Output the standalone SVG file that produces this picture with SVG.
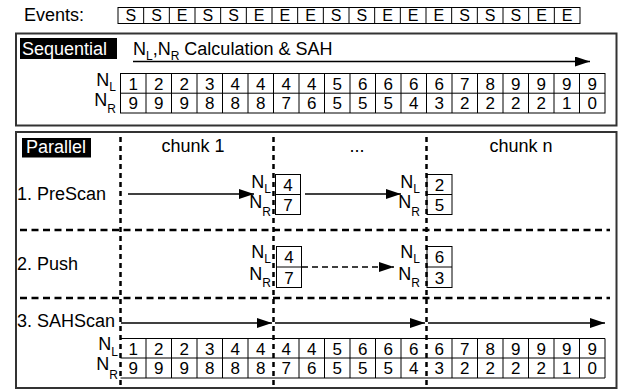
<svg xmlns="http://www.w3.org/2000/svg" width="623" height="390" viewBox="0 0 623 390">
<style>
text{font-family:"Liberation Sans",Arial,sans-serif;fill:#000}
.lbl{font-size:18px}
.sub{font-size:12px}
.ev{font-size:16px;text-anchor:middle}
.d{font-size:17px;text-anchor:middle}
.cell{fill:#fff;stroke:#000;stroke-width:1}
.grid{fill:none;stroke:#000;stroke-width:1}
.frame{fill:#fff;stroke:#333;stroke-width:2}
.tag{fill:#000}
.tagt{font-size:18px;fill:#fff}
.arr{stroke:#000;stroke-width:1.5;fill:none;marker-end:url(#ah)}
.darr{stroke:#000;stroke-width:1.3;fill:none;stroke-dasharray:6 4;marker-end:url(#ah)}
.vd{stroke:#000;stroke-width:2.5;stroke-dasharray:5 4;fill:none}
.hd{stroke:#000;stroke-width:2.5;stroke-dasharray:7 4.5;fill:none}
</style>
<defs>
<marker id="ah" viewBox="0 0 15 10" refX="15" refY="5" markerWidth="15" markerHeight="10" markerUnits="userSpaceOnUse" orient="auto"><path d="M0,0 L15,5 L0,10 z" fill="#000"/></marker>
</defs>
<rect width="623" height="390" fill="#fff"/>

<g id="events">
<text class="lbl" x="24" y="21">Events:</text>
<rect class="cell" x="118" y="7.5" width="462" height="16"/>
<path class="grid" d="M143.67 7.5V23.5M169.33 7.5V23.5M195 7.5V23.5M220.67 7.5V23.5M246.33 7.5V23.5M272 7.5V23.5M297.67 7.5V23.5M323.33 7.5V23.5M349 7.5V23.5M374.67 7.5V23.5M400.33 7.5V23.5M426 7.5V23.5M451.67 7.5V23.5M477.33 7.5V23.5M503 7.5V23.5M528.67 7.5V23.5M554.33 7.5V23.5"/>
<text class="ev" x="130.8" y="21">S</text><text class="ev" x="156.5" y="21">S</text><text class="ev" x="182.2" y="21">E</text><text class="ev" x="207.8" y="21">S</text><text class="ev" x="233.5" y="21">S</text><text class="ev" x="259.2" y="21">E</text><text class="ev" x="284.8" y="21">E</text><text class="ev" x="310.5" y="21">E</text><text class="ev" x="336.2" y="21">S</text><text class="ev" x="361.8" y="21">S</text><text class="ev" x="387.5" y="21">E</text><text class="ev" x="413.2" y="21">E</text><text class="ev" x="438.8" y="21">E</text><text class="ev" x="464.5" y="21">S</text><text class="ev" x="490.2" y="21">S</text><text class="ev" x="515.8" y="21">S</text><text class="ev" x="541.5" y="21">E</text><text class="ev" x="567.2" y="21">E</text>
</g>

<g id="sequential">
<rect class="frame" x="16" y="33.5" width="600.5" height="92"/>
<rect class="tag" x="20" y="38" width="97" height="21"/>
<text class="tagt" x="22" y="54.5">Sequential</text>
<text class="lbl" x="133" y="55">N<tspan class="sub" dy="5">L</tspan><tspan dy="-5">,N</tspan><tspan class="sub" dy="5">R</tspan><tspan dy="-5"> Calculation &amp; SAH</tspan></text>
<text class="lbl" x="116" y="86" text-anchor="end">N<tspan class="sub" dy="5">L</tspan></text>
<text class="lbl" x="116" y="106" text-anchor="end">N<tspan class="sub" dy="7">R</tspan></text>
<rect class="cell" x="120.5" y="73.5" width="484.5" height="39.5"/>
<path class="grid" d="M120.5 93.2H605M146 73.5V113M171.5 73.5V113M197 73.5V113M222.5 73.5V113M248 73.5V113M273.5 73.5V113M299 73.5V113M324.5 73.5V113M350 73.5V113M375.5 73.5V113M401 73.5V113M426.5 73.5V113M452 73.5V113M477.5 73.5V113M503 73.5V113M528.5 73.5V113M554 73.5V113M579.5 73.5V113"/>
<text class="d" x="133.25" y="89.5">1</text><text class="d" x="158.75" y="89.5">2</text><text class="d" x="184.25" y="89.5">2</text><text class="d" x="209.75" y="89.5">3</text><text class="d" x="235.25" y="89.5">4</text><text class="d" x="260.75" y="89.5">4</text><text class="d" x="286.25" y="89.5">4</text><text class="d" x="311.75" y="89.5">4</text><text class="d" x="337.25" y="89.5">5</text><text class="d" x="362.75" y="89.5">6</text><text class="d" x="388.25" y="89.5">6</text><text class="d" x="413.75" y="89.5">6</text><text class="d" x="439.25" y="89.5">6</text><text class="d" x="464.75" y="89.5">7</text><text class="d" x="490.25" y="89.5">8</text><text class="d" x="515.75" y="89.5">9</text><text class="d" x="541.25" y="89.5">9</text><text class="d" x="566.75" y="89.5">9</text><text class="d" x="592.25" y="89.5">9</text>
<text class="d" x="133.25" y="109">9</text><text class="d" x="158.75" y="109">9</text><text class="d" x="184.25" y="109">9</text><text class="d" x="209.75" y="109">8</text><text class="d" x="235.25" y="109">8</text><text class="d" x="260.75" y="109">8</text><text class="d" x="286.25" y="109">7</text><text class="d" x="311.75" y="109">6</text><text class="d" x="337.25" y="109">5</text><text class="d" x="362.75" y="109">5</text><text class="d" x="388.25" y="109">5</text><text class="d" x="413.75" y="109">4</text><text class="d" x="439.25" y="109">3</text><text class="d" x="464.75" y="109">2</text><text class="d" x="490.25" y="109">2</text><text class="d" x="515.75" y="109">2</text><text class="d" x="541.25" y="109">2</text><text class="d" x="566.75" y="109">1</text><text class="d" x="592.25" y="109">0</text>
</g>

<g id="parallel">
<rect class="frame" x="16" y="132" width="600.5" height="256"/>
<rect class="tag" x="22" y="138" width="69" height="19.5"/>
<text class="tagt" x="26" y="153">Parallel</text>
<text class="lbl" x="193" y="152" text-anchor="middle">chunk 1</text>
<text class="lbl" x="357" y="152" text-anchor="middle">...</text>
<text class="lbl" x="521" y="152" text-anchor="middle">chunk n</text>
<text class="lbl" x="17" y="200">1. PreScan</text>
<text class="lbl" x="17" y="270">2. Push</text>
<text class="lbl" x="17" y="327">3. SAHScan</text>
</g>

<g id="prescan-1">
<text class="lbl" x="271" y="188" text-anchor="end">N<tspan class="sub" dy="5">L</tspan></text>
<text class="lbl" x="271" y="208" text-anchor="end">N<tspan class="sub" dy="8">R</tspan></text>
<rect class="cell" x="275.5" y="174.5" width="25" height="40"/>
<path class="grid" d="M275.5 194.5H300.5"/>
<text class="d" x="288" y="190.5">4</text><text class="d" x="288" y="210.5">7</text>
</g>
<g id="prescan-n">
<text class="lbl" x="420" y="188" text-anchor="end">N<tspan class="sub" dy="5">L</tspan></text>
<text class="lbl" x="420" y="208" text-anchor="end">N<tspan class="sub" dy="8">R</tspan></text>
<rect class="cell" x="427" y="174.5" width="25" height="40"/>
<path class="grid" d="M427 194.5H452"/>
<text class="d" x="439.5" y="190.5">2</text><text class="d" x="439.5" y="210.5">5</text>
</g>
<g id="push-1">
<text class="lbl" x="271" y="258" text-anchor="end">N<tspan class="sub" dy="5">L</tspan></text>
<text class="lbl" x="271" y="280" text-anchor="end">N<tspan class="sub" dy="7">R</tspan></text>
<rect class="cell" x="276.5" y="246.5" width="25" height="41"/>
<path class="grid" d="M276.5 267H301.5"/>
<text class="d" x="289" y="263">4</text><text class="d" x="289" y="283.5">7</text>
</g>
<g id="push-n">
<text class="lbl" x="420" y="258" text-anchor="end">N<tspan class="sub" dy="5">L</tspan></text>
<text class="lbl" x="420" y="280" text-anchor="end">N<tspan class="sub" dy="7">R</tspan></text>
<rect class="cell" x="427" y="246.5" width="25" height="41"/>
<path class="grid" d="M427 267H452"/>
<text class="d" x="439.5" y="263">6</text><text class="d" x="439.5" y="283.5">3</text>
</g>

<g id="sahscan-rows">
<text class="lbl" x="118" y="350" text-anchor="end">N<tspan class="sub" dy="6">L</tspan></text>
<text class="lbl" x="118" y="370" text-anchor="end">N<tspan class="sub" dy="9">R</tspan></text>
<path class="grid" d="M120.5 338.5H605M120.5 358H605M120.5 378H605M605 338.5V378M146 338.5V378M171.5 338.5V378M197 338.5V378M222.5 338.5V378M248 338.5V378M299 338.5V378M324.5 338.5V378M350 338.5V378M375.5 338.5V378M401 338.5V378M452 338.5V378M477.5 338.5V378M503 338.5V378M528.5 338.5V378M554 338.5V378M579.5 338.5V378"/>
<text class="d" x="133.25" y="354.5">1</text><text class="d" x="158.75" y="354.5">2</text><text class="d" x="184.25" y="354.5">2</text><text class="d" x="209.75" y="354.5">3</text><text class="d" x="235.25" y="354.5">4</text><text class="d" x="260.75" y="354.5">4</text><text class="d" x="286.25" y="354.5">4</text><text class="d" x="311.75" y="354.5">4</text><text class="d" x="337.25" y="354.5">5</text><text class="d" x="362.75" y="354.5">6</text><text class="d" x="388.25" y="354.5">6</text><text class="d" x="413.75" y="354.5">6</text><text class="d" x="439.25" y="354.5">6</text><text class="d" x="464.75" y="354.5">7</text><text class="d" x="490.25" y="354.5">8</text><text class="d" x="515.75" y="354.5">9</text><text class="d" x="541.25" y="354.5">9</text><text class="d" x="566.75" y="354.5">9</text><text class="d" x="592.25" y="354.5">9</text>
<text class="d" x="133.25" y="374">9</text><text class="d" x="158.75" y="374">9</text><text class="d" x="184.25" y="374">9</text><text class="d" x="209.75" y="374">8</text><text class="d" x="235.25" y="374">8</text><text class="d" x="260.75" y="374">8</text><text class="d" x="286.25" y="374">7</text><text class="d" x="311.75" y="374">6</text><text class="d" x="337.25" y="374">5</text><text class="d" x="362.75" y="374">5</text><text class="d" x="388.25" y="374">5</text><text class="d" x="413.75" y="374">4</text><text class="d" x="439.25" y="374">3</text><text class="d" x="464.75" y="374">2</text><text class="d" x="490.25" y="374">2</text><text class="d" x="515.75" y="374">2</text><text class="d" x="541.25" y="374">2</text><text class="d" x="566.75" y="374">1</text><text class="d" x="592.25" y="374">0</text>
</g>

<g id="connectors">
<path class="arr" d="M133 61.5H590"/>
<path class="hd" d="M20 230H610M20 298H610"/>
<path class="vd" d="M120.5 137V388M273.5 137V388M426.5 137V388"/>
<path class="arr" d="M128 194H254"/>
<path class="arr" d="M305 194H401"/>
<path class="darr" d="M302 267H394"/>
<path class="arr" d="M121 323H272"/>
<path class="arr" d="M275 323H425"/>
<path class="arr" d="M428 323H605"/>
</g>
</svg>
